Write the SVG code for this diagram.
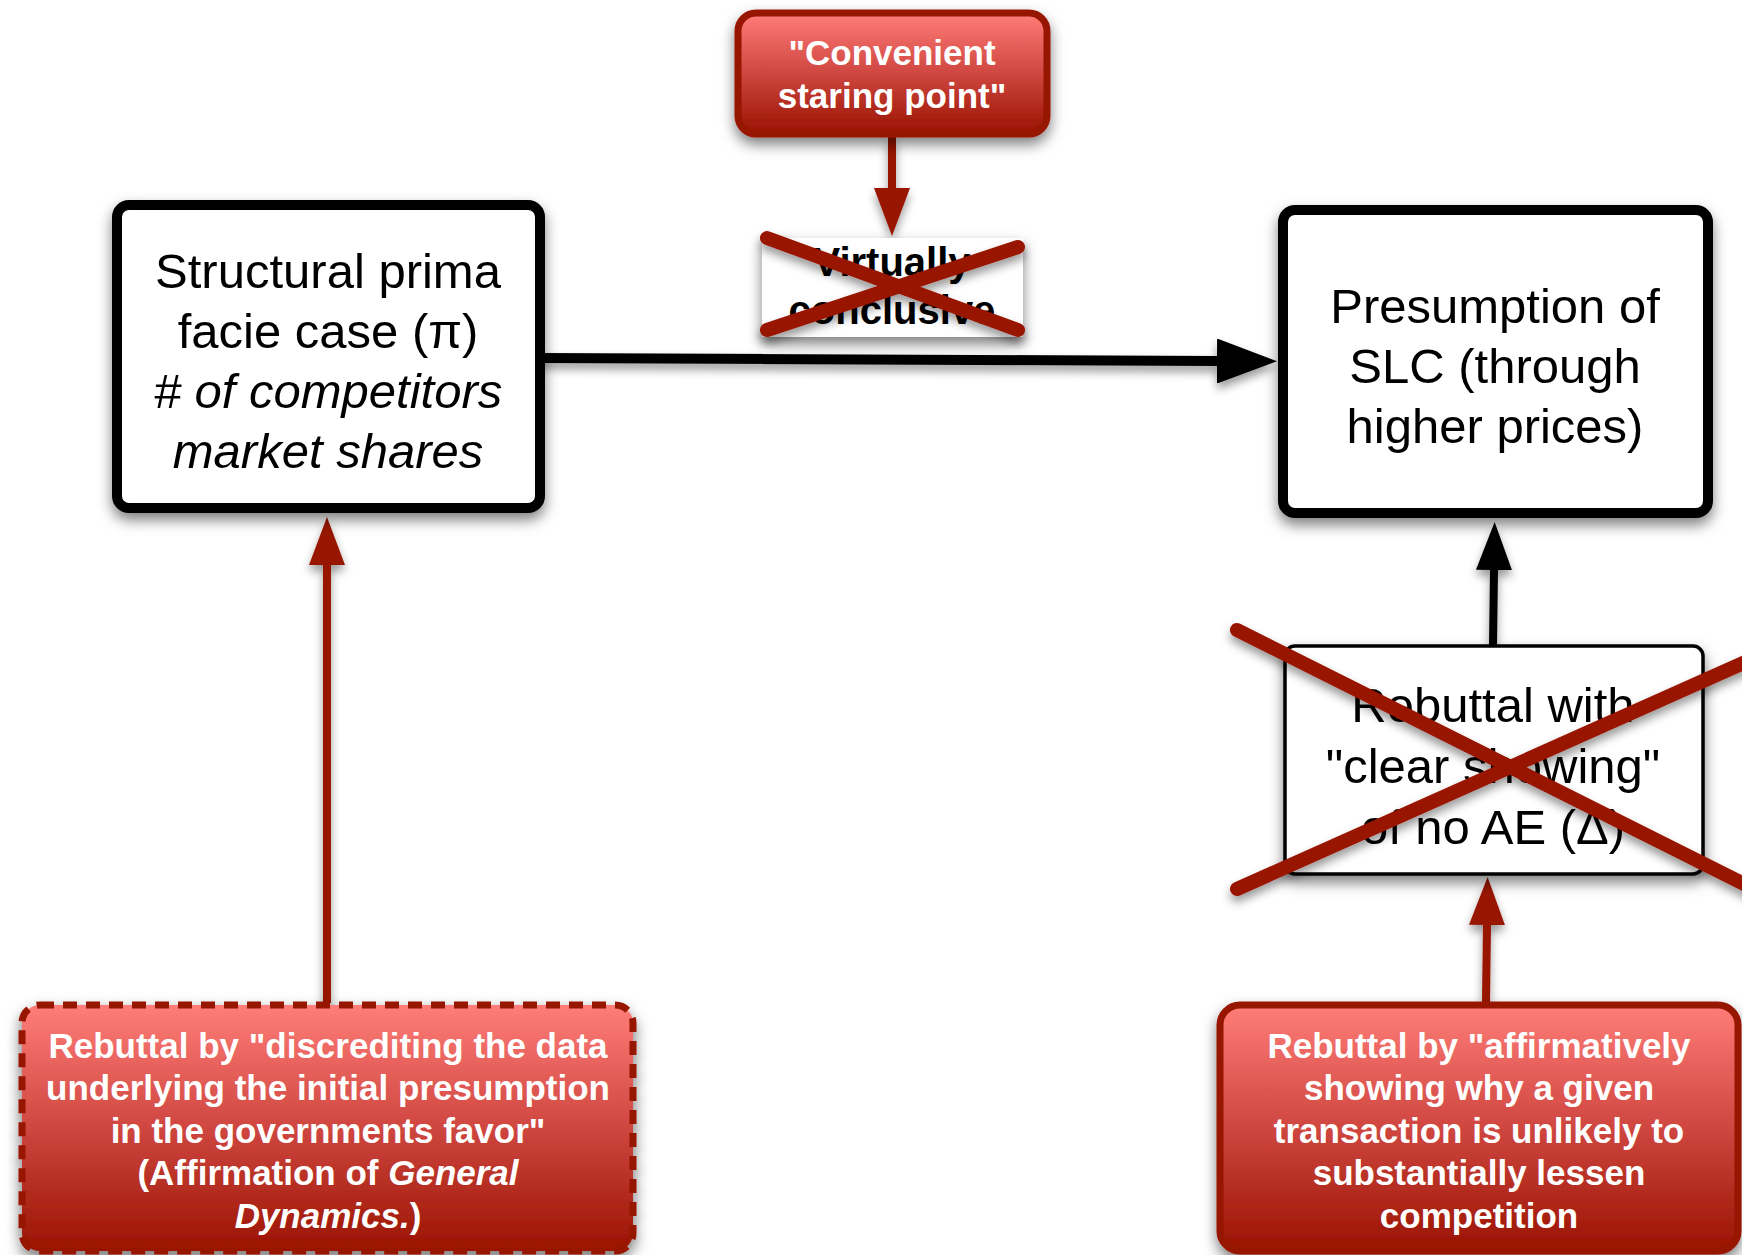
<svg xmlns="http://www.w3.org/2000/svg" width="1742" height="1255" viewBox="0 0 1742 1255">
  <defs>
    <linearGradient id="redFill" x1="0" y1="0" x2="0" y2="1">
      <stop offset="0" stop-color="#ff7d78"/>
      <stop offset="0.5" stop-color="#cf4640"/>
      <stop offset="1" stop-color="#9a1300"/>
    </linearGradient>
    <filter id="shadow" x="-20%" y="-20%" width="140%" height="150%">
      <feDropShadow dx="0" dy="7" stdDeviation="7" flood-color="#000" flood-opacity="0.5"/>
    </filter>
    <filter id="lineShadow" x="-20%" y="-20%" width="140%" height="140%">
      <feDropShadow dx="0" dy="6" stdDeviation="5" flood-color="#000" flood-opacity="0.4"/>
    </filter>
    <clipPath id="labelClip">
      <rect x="762" y="238" width="261" height="99"/>
    </clipPath>
    <marker id="headBlack" markerUnits="strokeWidth" markerWidth="6" markerHeight="4.5" viewBox="0 0 6 4.5" refX="0" refY="2.25" orient="auto">
      <path d="M0,0 L6,2.25 L0,4.5 z" fill="#000"/>
    </marker>
    <marker id="headRed" markerUnits="strokeWidth" markerWidth="6" markerHeight="4.5" viewBox="0 0 6 4.5" refX="0" refY="2.25" orient="auto">
      <path d="M0,0 L6,2.25 L0,4.5 z" fill="#981400"/>
    </marker>
    <style>
      .txt { font-family: "Liberation Sans", Arial, Helvetica, sans-serif; text-anchor: middle; }
      .big { font-size: 49px; fill: #000; }
      .red-txt { font-size: 35px; font-weight: bold; fill: #fff; }
      .label { font-size: 40px; font-weight: bold; fill: #000; }
      .it { font-style: italic; }
      .box-black { fill: #fff; stroke: #000; stroke-width: 10; }
      .box-thin { fill: #fff; stroke: #000; stroke-width: 3.5; }
      .box-red { fill: url(#redFill); stroke: #961300; stroke-width: 7; }
      .dashed { stroke-dasharray: 14 9; }
      .conn-black { fill: none; stroke: #000; }
      .conn-red { fill: none; stroke: #981400; }
      .cross { stroke: #981400; stroke-width: 14; stroke-linecap: round; fill: none; }
    </style>
  </defs>

  <rect width="1742" height="1255" fill="#fff"/>

  <!-- connectors -->
  <g id="connectors" filter="url(#lineShadow)">
    <line class="conn-red" x1="892" y1="137" x2="892" y2="188" stroke-width="8" marker-end="url(#headRed)"/>
    <line class="conn-black" x1="540" y1="358" x2="1217" y2="361" stroke-width="10" marker-end="url(#headBlack)"/>
    <line class="conn-black" x1="1493" y1="645" x2="1494" y2="570" stroke-width="8" marker-end="url(#headBlack)"/>
    <line class="conn-red" x1="327" y1="1003" x2="327" y2="565" stroke-width="8" marker-end="url(#headRed)"/>
    <line class="conn-red" x1="1486" y1="1002" x2="1487" y2="925" stroke-width="8" marker-end="url(#headRed)"/>
  </g>

  <!-- "Convenient staring point" -->
  <g id="node-convenient">
    <rect class="box-red" x="738" y="13" width="309" height="121" rx="18" filter="url(#shadow)"/>
    <text class="txt red-txt" x="892" y="65">"Convenient</text>
    <text class="txt red-txt" x="892" y="108">staring point"</text>
  </g>

  <!-- struck-out label on the main connector -->
  <g id="label-conclusive">
    <rect x="762" y="238" width="261" height="99" fill="#fff" filter="url(#shadow)"/>
    <g clip-path="url(#labelClip)">
      <text class="txt label" x="892" y="276">Virtually</text>
      <text class="txt label" x="892" y="324">conclusive</text>
    </g>
    <g filter="url(#lineShadow)">
      <line class="cross" x1="767" y1="238" x2="1018" y2="330"/>
      <line class="cross" x1="767" y1="330" x2="1018" y2="247"/>
    </g>
  </g>

  <!-- structural prima facie case -->
  <g id="node-prima-facie">
    <rect class="box-black" x="117" y="205" width="423" height="303" rx="12" filter="url(#shadow)"/>
    <text class="txt big" x="328" y="288">Structural prima</text>
    <text class="txt big" x="328" y="348">facie case (π)</text>
    <text class="txt big it" x="328" y="408"># of competitors</text>
    <text class="txt big it" x="328" y="468">market shares</text>
  </g>

  <!-- presumption of SLC -->
  <g id="node-presumption">
    <rect class="box-black" x="1283" y="210" width="425" height="303" rx="12" filter="url(#shadow)"/>
    <text class="txt big" x="1495" y="323">Presumption of</text>
    <text class="txt big" x="1495" y="383">SLC (through</text>
    <text class="txt big" x="1495" y="443">higher prices)</text>
  </g>

  <!-- rebuttal with clear showing (struck out) -->
  <g id="node-clear-showing">
    <rect class="box-thin" x="1285" y="646" width="418" height="228" rx="10" filter="url(#shadow)"/>
    <text class="txt big" x="1493" y="722">Rebuttal with</text>
    <text class="txt big" x="1493" y="783">"clear showing"</text>
    <text class="txt big" x="1493" y="844">of no AE (Δ)</text>
    <g filter="url(#lineShadow)">
      <line class="cross" x1="1237" y1="630" x2="1750" y2="887"/>
      <line class="cross" x1="1237" y1="889" x2="1750" y2="660"/>
    </g>
  </g>

  <!-- rebuttal by discrediting the data -->
  <g id="node-discrediting">
    <rect class="box-red dashed" x="22" y="1005" width="611" height="246" rx="18" filter="url(#shadow)"/>
    <text class="txt red-txt" x="328" y="1058">Rebuttal by "discrediting the data</text>
    <text class="txt red-txt" x="328" y="1100">underlying the initial presumption</text>
    <text class="txt red-txt" x="328" y="1143">in the governments favor"</text>
    <text class="txt red-txt" x="328" y="1185">(Affirmation of <tspan class="it">General</tspan></text>
    <text class="txt red-txt" x="328" y="1228"><tspan class="it">Dynamics.</tspan>)</text>
  </g>

  <!-- rebuttal by affirmatively showing -->
  <g id="node-affirmative">
    <rect class="box-red" x="1220" y="1005" width="518" height="246" rx="20" filter="url(#shadow)"/>
    <text class="txt red-txt" x="1479" y="1058">Rebuttal by "affirmatively</text>
    <text class="txt red-txt" x="1479" y="1100">showing why a given</text>
    <text class="txt red-txt" x="1479" y="1143">transaction is unlikely to</text>
    <text class="txt red-txt" x="1479" y="1185">substantially lessen</text>
    <text class="txt red-txt" x="1479" y="1228">competition</text>
  </g>
</svg>
